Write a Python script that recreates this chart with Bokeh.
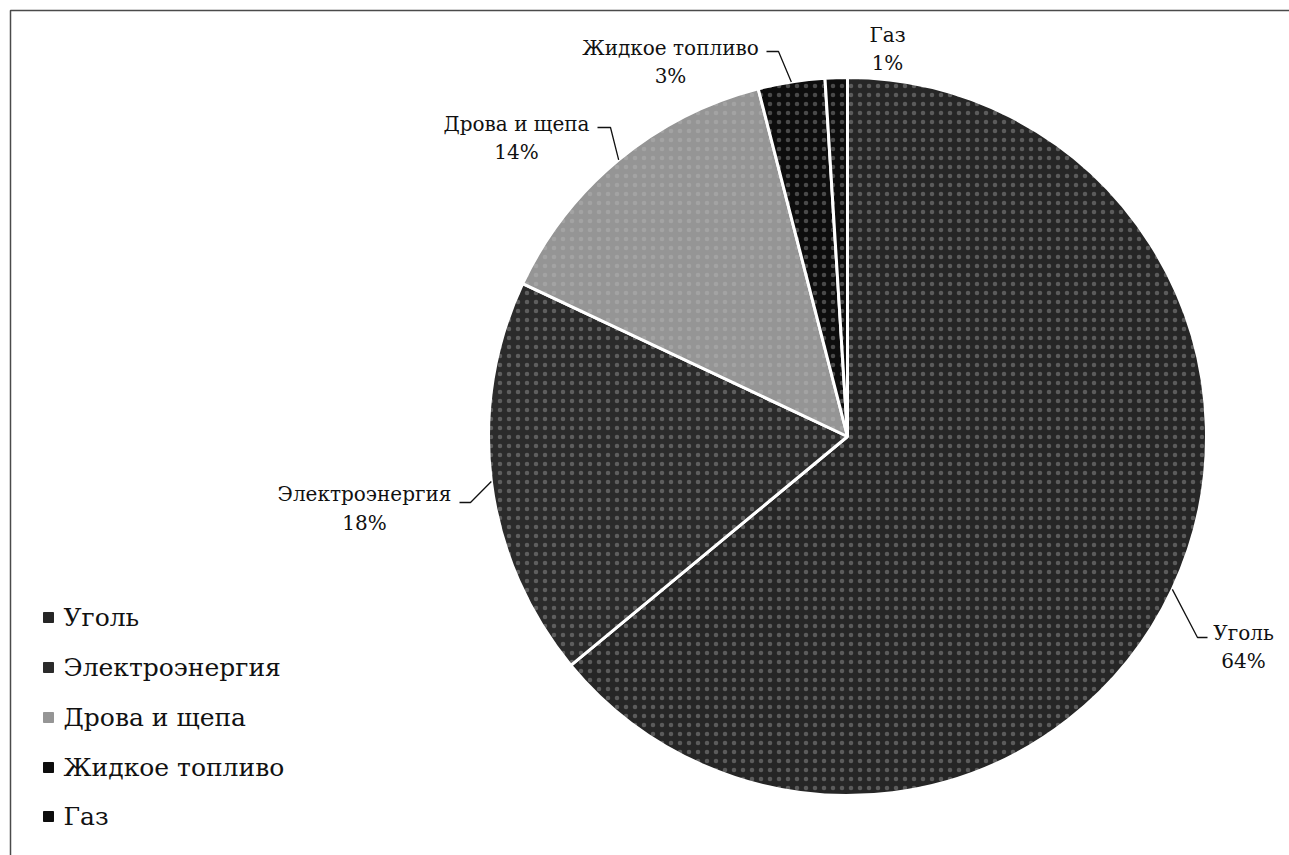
import numpy as np
from bokeh.plotting import figure
from bokeh.models import Range1d, ColumnDataSource
from bokeh.core.properties import value
from bokeh.embed import file_html
from bokeh.resources import INLINE

# Structure of heat-supply fuel use, %
categories = ["Уголь", "Электроэнергия", "Дрова и щепа", "Жидкое топливо", "Газ"]
shares = [64, 18, 14, 3, 1]
colors = ["#262626", "#2b2b2b", "#959595", "#0d0d0d", "#0d0d0d"]

W, H = 1289, 855
CX, CY, R = 847, 436, 359          # pie centre / radius (screen px, y down)
FONT = value("DejaVu Serif")


def sy(y):
    """screen y (down) -> data y (up)"""
    return H - y


frac = np.array(shares, dtype=float) / sum(shares)
cum = np.concatenate([[0.0], np.cumsum(frac)])
start = np.pi / 2 - 2 * np.pi * cum[:-1]
end = np.pi / 2 - 2 * np.pi * cum[1:]
mid = (start + end) / 2

p = figure(width=W, height=H, x_range=Range1d(0, W), y_range=Range1d(0, H),
           output_backend="svg", toolbar_location=None,
           x_axis_type=None, y_axis_type=None, min_border=0,
           outline_line_color=None, background_fill_color="white")
p.grid.visible = False

# outer frame (top and left edges)
p.line(x=[10, 10, W + 5], y=[-5, sy(10), sy(10)], line_color="#4a4a4a", line_width=1.5)

# pie slices
src = ColumnDataSource(dict(start=start, end=end, color=colors, cat=categories))
p.wedge(x=CX, y=sy(CY), radius=R, start_angle="start", end_angle="end",
        direction="clock", fill_color="color", line_color="white", line_width=3,
        hatch_pattern=".", hatch_color="#bdbdbd", hatch_alpha=0.35,
        hatch_scale=9, hatch_weight=1.2, source=src)

# data labels: name on the first line, share on the second
label_cx = [1243, 364, 516, 670, 887]
label_y1 = [632, 493, 123, 47, 34]
label_y2 = [660, 522, 151, 75, 62]
p.text(x=label_cx, y=[sy(v) for v in label_y1], text=categories,
       text_font=FONT, text_font_size="20px", text_align="center",
       text_baseline="middle", text_color="#111111")
p.text(x=label_cx, y=[sy(v) for v in label_y2], text=[f"{s}%" for s in shares],
       text_font=FONT, text_font_size="20px", text_align="center",
       text_baseline="middle", text_color="#111111")

# leader lines: slice edge -> elbow -> label
elbows = [(1197, 637, 1207), (470, 502, 459), (610, 127, 597), (778, 51, 766), None]
xs, ys = [], []
for m, e in zip(mid, elbows):
    if e is None:
        continue
    ex = CX + R * np.cos(m)
    ey = sy(CY) + R * np.sin(m)
    xs.append([ex, e[0], e[2]])
    ys.append([ey, sy(e[1]), sy(e[1])])
p.multi_line(xs=xs, ys=ys, line_color="#111111", line_width=1.3)

# legend
leg_y = [617, 667, 717, 767, 816]
p.scatter(x=[48] * len(categories), y=[sy(v) for v in leg_y], marker="square",
          size=10, fill_color=colors, line_color=colors)
p.text(x=[63] * len(categories), y=[sy(v) for v in leg_y], text=categories,
       text_font=FONT, text_font_size="25px", text_baseline="middle",
       text_color="#111111")

open("out.html", "w").write(file_html(p, INLINE))
